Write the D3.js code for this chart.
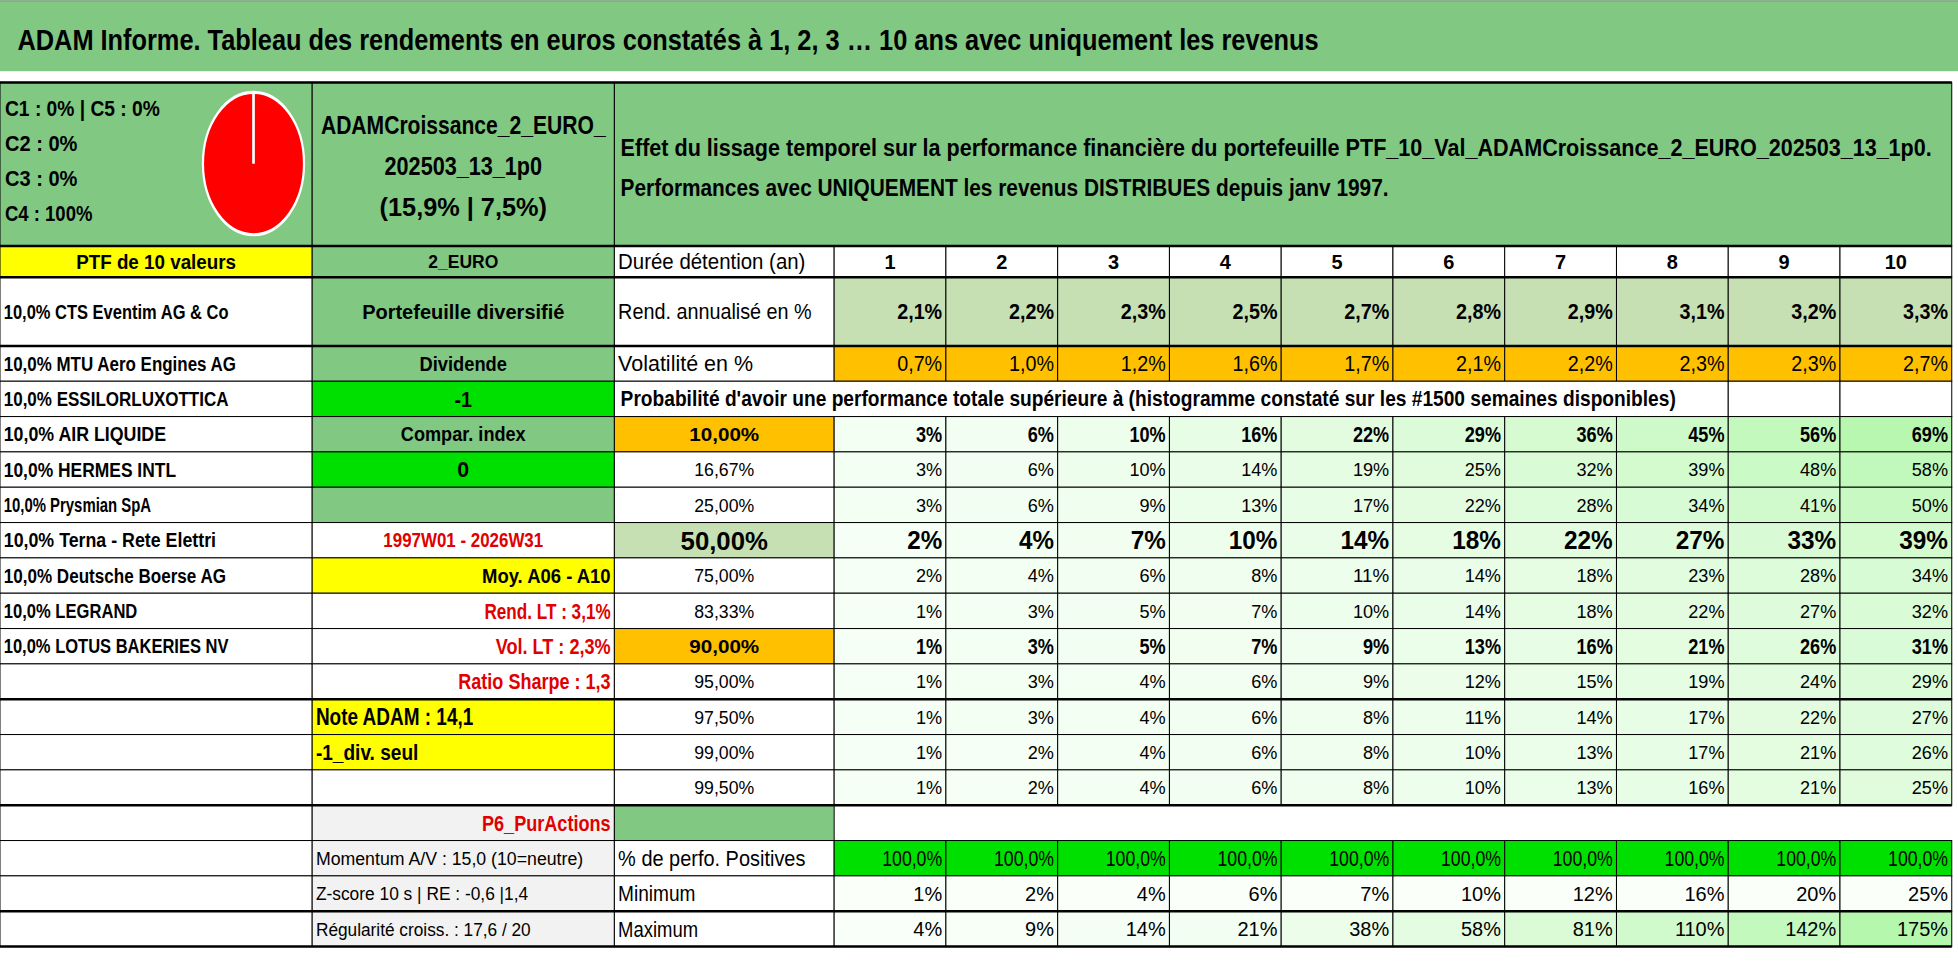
<!DOCTYPE html>
<html><head><meta charset="utf-8">
<script src="https://cdn.jsdelivr.net/npm/d3@7"></script>
<style>body{margin:0;background:#fff}svg text{font-family:"Liberation Sans","Arial",sans-serif}</style>
</head><body><svg id="c" width="1958" height="979" viewBox="0 0 1568 784"></svg>
<script>
const years = [1,2,3,4,5,6,7,8,9,10];
const rend = [2.1,2.2,2.3,2.5,2.7,2.8,2.9,3.1,3.2,3.3];
const vol = [0.7,1.0,1.2,1.6,1.7,2.1,2.2,2.3,2.3,2.7];
const thresholds = ["10,00%","16,67%","25,00%","50,00%","75,00%","83,33%","90,00%","95,00%","97,50%","99,00%","99,50%"];
const probs = [
 [3,6,10,16,22,29,36,45,56,69],
 [3,6,10,14,19,25,32,39,48,58],
 [3,6,9,13,17,22,28,34,41,50],
 [2,4,7,10,14,18,22,27,33,39],
 [2,4,6,8,11,14,18,23,28,34],
 [1,3,5,7,10,14,18,22,27,32],
 [1,3,5,7,9,13,16,21,26,31],
 [1,3,4,6,9,12,15,19,24,29],
 [1,3,4,6,8,11,14,17,22,27],
 [1,2,4,6,8,10,13,17,21,26],
 [1,2,4,6,8,10,13,16,21,25]];
const positives = [100,100,100,100,100,100,100,100,100,100];
const minimum = [1,2,4,6,7,10,12,16,20,25];
const maximum = [4,9,14,21,38,58,81,110,142,175];
const holdings = ["10,0% CTS Eventim AG & Co","10,0% MTU Aero Engines AG","10,0% ESSILORLUXOTTICA","10,0% AIR LIQUIDE","10,0% HERMES INTL","10,0% Prysmian SpA","10,0% Terna - Rete Elettri","10,0% Deutsche Boerse AG","10,0% LEGRAND","10,0% LOTUS BAKERIES NV"];
const pieLines = ["C1 : 0% | C5 : 0%","C2 : 0%","C3 : 0%","C4 : 100%"];
const pieShares = [0,0,0,100,0];

const G="#81c883", Y="#ffff00", O="#ffc000", LG="#c6e0b4", BG="#00e000", GR="#f2f2f2", RED="#e00000";
const svg=d3.select("#c");
const fmt=v=>v.toFixed(1).replace(".",",")+"%";
const x=d3.scaleBand().domain(years).range([668,1563]);
const rowKeys=d3.range(1,18);
const y=d3.scaleBand().domain(rowKeys).range([277,758]);
const c0=[0,250], c1=[250,492], c2=[492,668];

function cell(x0,x1,y0,y1,fill,txt,o={}){
  svg.append("rect").attr("x",x0).attr("y",y0).attr("width",x1-x0).attr("height",y1-y0)
    .attr("fill",fill||"none").attr("stroke","#000").attr("stroke-width",0.8);
  if(txt!==undefined&&txt!==""){
    const a=o.anchor||"start";
    const tx=a==="middle"?(x0+x1)/2:a==="end"?x1-3:x0+3;
    const t=svg.append("text").attr("x",tx).attr("y",(y0+y1)/2).attr("dy","0.36em")
      .attr("text-anchor",a).attr("font-size",o.size||14).attr("font-weight",o.bold===false?"normal":"bold")
      .attr("fill",o.color||"#000").text(txt);
    if(o.len) t.attr("textLength",o.len).attr("lengthAdjust","spacingAndGlyphs");
  }
}
function ltext(tx,ty,s,size,len){
  svg.append("text").attr("x",tx).attr("y",ty).attr("font-size",size).attr("font-weight","bold")
   .attr("textLength",len).attr("lengthAdjust","spacingAndGlyphs").text(s);
}
// title
svg.append("rect").attr("x",0).attr("y",0).attr("width",1568).attr("height",57).attr("fill",G);
svg.append("line").attr("x1",0).attr("x2",1568).attr("y1",1).attr("y2",1).attr("stroke","#999");
ltext(14,40,"ADAM Informe. Tableau des rendements en euros constatés à 1, 2, 3 … 10 ans avec uniquement les revenus",24,1042);
// top section
cell(c0[0],c0[1],66,197,G);
pieLines.forEach((t,i)=>ltext(4,93+i*28,t,17,[124,58,58,70][i]));
const pg=svg.append("g").attr("transform","translate(203,131) scale(0.71,1)");
const arcs=d3.pie().sort(null)(pieShares);
pg.selectAll("path").data(arcs).join("path").attr("d",d3.arc().innerRadius(0).outerRadius(57))
  .attr("fill",(d,i)=>["#4472c4","#ed7d31","#a5a5a5","#ff0000","#5b9bd5"][i]).attr("stroke","#fff").attr("stroke-width",2.5);
pg.append("line").attr("x1",0).attr("y1",0).attr("x2",0).attr("y2",-57).attr("stroke","#fff").attr("stroke-width",2.5);
cell(c1[0],c1[1],66,197,G);
[["ADAMCroissance_2_EURO_",228],["202503_13_1p0",126],["(15,9% | 7,5%)",134]].forEach((t,i)=>{
 svg.append("text").attr("x",371).attr("y",107+i*33).attr("text-anchor","middle").attr("font-size",20).attr("font-weight","bold")
 .attr("textLength",t[1]).attr("lengthAdjust","spacingAndGlyphs").text(t[0]);});
cell(c2[0],1563,66,197,G);
ltext(497,125,"Effet du lissage temporel sur la performance financière du portefeuille PTF_10_Val_ADAMCroissance_2_EURO_202503_13_1p0.",19,1050);
ltext(497,157,"Performances avec UNIQUEMENT les revenus DISTRIBUES depuis janv 1997.",19,615);
// header row
cell(c0[0],c0[1],197,222,Y,"PTF de 10 valeurs",{anchor:"middle",size:16,len:128});
cell(c1[0],c1[1],197,222,G,"2_EURO",{anchor:"middle",size:15,len:56});
cell(c2[0],c2[1],197,222,"#fff","Durée détention (an)",{bold:false,size:17,len:150});
years.forEach(yr=>cell(x(yr),x(yr)+x.bandwidth(),197,222,"#fff",String(yr),{anchor:"middle",size:16}));
// CTS row
cell(c0[0],c0[1],222,277,"#fff",holdings[0],{size:16,len:180});
cell(c1[0],c1[1],222,277,G,"Portefeuille diversifié",{anchor:"middle",size:16,len:162});
cell(c2[0],c2[1],222,277,"#fff","Rend. annualisé en %",{bold:false,size:17,len:155});
years.forEach((yr,i)=>cell(x(yr),x(yr)+x.bandwidth(),222,277,LG,fmt(rend[i]),{anchor:"end",size:17,len:36}));
const R=k=>[y(k),y(k)+y.bandwidth()];
const hlen=[186,180,130,138,118,170,178,107,180];
holdings.slice(1).forEach((h,i)=>{const [a,b]=R(i+1);cell(c0[0],c0[1],a,b,"#fff",h,{size:16,len:hlen[i]});});
for(let k=10;k<=17;k++){const [a,b]=R(k);cell(c0[0],c0[1],a,b,"#fff");}
// col1
const col1=[
 [G,"Dividende","middle","#000",16,70,1],[BG,"-1","middle","#000",17,14,1],[G,"Compar. index","middle","#000",16,100,1],
 [BG,"0","middle","#000",17,0,1],[G,"","middle","#000",14,0,1],["#fff","1997W01 - 2026W31","middle",RED,16,128,1],
 [Y,"Moy. A06 - A10","end","#000",16,103,1],["#fff","Rend. LT : 3,1%","end",RED,17,101,1],["#fff","Vol. LT : 2,3%","end",RED,17,92,1],
 ["#fff","Ratio Sharpe : 1,3","end",RED,17,122,1],[Y,"Note ADAM : 14,1","start","#000",19,126,0],[Y,"-1_div. seul","start","#000",18,82,0],
 ["#fff","","start","#000",14,0,0],[GR,"P6_PurActions","end",RED,18,103,0],[GR,"Momentum A/V : 15,0 (10=neutre)","start","#000",15,214,0],
 [GR,"Z-score 10 s | RE : -0,6 |1,4","start","#000",15,170,0],[GR,"Régularité croiss. : 17,6 / 20","start","#000",15,172,0]];
col1.forEach((d,i)=>{const [a,b]=R(i+1);cell(c1[0],c1[1],a,b,d[0],d[1],{anchor:d[2],color:d[3],size:d[4],len:d[5]||null,
  bold:!d[1].startsWith("Mom")&&!d[1].startsWith("Z-")&&!d[1].startsWith("Rég")});});
// row 1 vol
{const [a,b]=R(1);cell(c2[0],c2[1],a,b,"#fff","Volatilité en %",{bold:false,size:17,len:108});
 years.forEach((yr,i)=>cell(x(yr),x(yr)+x.bandwidth(),a,b,O,fmt(vol[i]),{anchor:"end",bold:false,size:17,len:36}));}
// row 2 prob title
{const [a,b]=R(2);cell(c2[0],x(8)+x.bandwidth(),a,b,"#fff");
 ltext(497,(a+b)/2+6,"Probabilité d'avoir une performance totale supérieure à (histogramme constaté sur les #1500 semaines disponibles)",17,845);
 [9,10].forEach(yr=>cell(x(yr),x(yr)+x.bandwidth(),a,b,"#fff"));}
const shade=d3.scaleLinear().domain([0,70]).range(["#f7fff7","#b6f7ae"]).clamp(true);
const boldRows=[0,3,6];
thresholds.forEach((t,j)=>{const [a,b]=R(j+3);
 const f=j===0||j===6?O:j===3?LG:"#fff";
 cell(c2[0],c2[1],a,b,f,t,{anchor:"middle",bold:j===0||j===3||j===6,size:j===3?21:15,len:j===3?70:(j===0||j===6?56:48)});
 years.forEach((yr,i)=>{const s=probs[j][i]+"%";
   cell(x(yr),x(yr)+x.bandwidth(),a,b,shade(probs[j][i]),s,
   {anchor:"end",bold:boldRows.includes(j),size:j===3?20:(boldRows.includes(j)?17:15),len:(s.length-1)*(j===3?11:8)+(j===3?17:13)});});});
// P6 row
{const [a,b]=R(14);cell(c2[0],c2[1],a,b,G);}
{const [a,b]=R(15);cell(c2[0],c2[1],a,b,"#fff","% de perfo. Positives",{bold:false,size:17,len:150});
 years.forEach((yr,i)=>cell(x(yr),x(yr)+x.bandwidth(),a,b,BG,fmt(positives[i]),{anchor:"end",bold:false,size:17,len:48}));}
{const [a,b]=R(16);cell(c2[0],c2[1],a,b,"#fff","Minimum",{bold:false,size:17,len:62});
 years.forEach((yr,i)=>cell(x(yr),x(yr)+x.bandwidth(),a,b,"#fafffa",minimum[i]+"%",{anchor:"end",bold:false,size:16}));}
const shadeMax=d3.scaleLinear().domain([0,175]).range(["#fbfffb","#b6f7ae"]);
{const [a,b]=R(17);cell(c2[0],c2[1],a,b,"#fff","Maximum",{bold:false,size:17,len:64});
 years.forEach((yr,i)=>cell(x(yr),x(yr)+x.bandwidth(),a,b,shadeMax(maximum[i]),maximum[i]+"%",{anchor:"end",bold:false,size:16}));}
// thick separators
[66,197,222,277,R(10)[1],R(14)[0],R(17)[0],758].forEach(v=>svg.append("line").attr("x1",0).attr("x2",1563).attr("y1",v).attr("y2",v).attr("stroke","#000").attr("stroke-width",2));
</script></body></html>
